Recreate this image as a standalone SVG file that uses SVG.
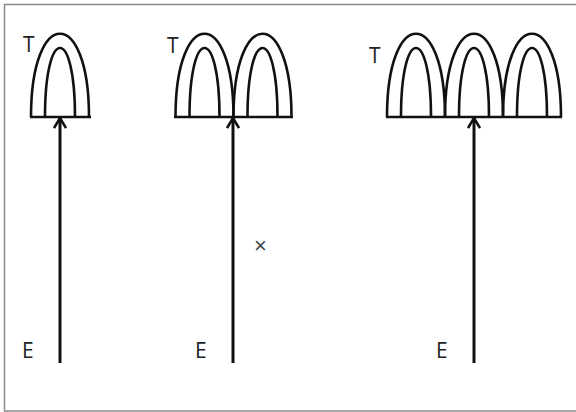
<svg xmlns="http://www.w3.org/2000/svg" width="576" height="412" viewBox="0 0 576 412">
<style>
.frame{fill:none;stroke:#8a8a8a;stroke-width:1.5}
.arch{fill:none;stroke:#111;stroke-width:2.6;stroke-linejoin:round}
.base{fill:none;stroke:#111;stroke-width:2.6}
.shaft{fill:none;stroke:#111;stroke-width:3}
.lbl{font-family:"Open Sans","Liberation Sans",sans-serif;font-size:21px;fill:#222}
.x{font-family:"Liberation Sans",sans-serif;font-size:22px;fill:#444}
</style>
<defs>
<g id="archUnit">
<path class="arch" d="M-29,117 C-29,6 29,6 29,117"/>
<path class="arch" d="M-15,117 C-15,25 15,25 15,117"/>
</g>
<marker id="head" viewBox="0 0 14 14" refX="12" refY="7" markerWidth="14" markerHeight="14" markerUnits="userSpaceOnUse" orient="auto">
<path d="M2,1 L12,7 L2,13" fill="none" stroke="#111" stroke-width="2.6" stroke-linejoin="miter"/>
</marker>
</defs>
<rect class="frame" x="4.5" y="4.5" width="580" height="406.5"/>
<g id="tree1">
<use href="#archUnit" x="60"/>
<line class="base" x1="30" y1="117" x2="91" y2="117"/>
<text class="lbl" x="23" y="52">T</text>
</g>
<g id="tree2">
<use href="#archUnit" x="204.5"/>
<use href="#archUnit" x="262.5"/>
<line class="base" x1="174" y1="117" x2="293" y2="117"/>
<text class="lbl" x="167" y="53">T</text>
</g>
<g id="tree3">
<use href="#archUnit" x="416"/>
<use href="#archUnit" x="474"/>
<use href="#archUnit" x="532"/>
<line class="base" x1="386" y1="117" x2="562" y2="117"/>
<text class="lbl" x="369" y="63">T</text>
</g>
<g id="labels">
<text class="lbl" x="22" y="358">E</text>
<text class="lbl" x="195" y="358">E</text>
<text class="lbl" x="436" y="358">E</text>
<text class="x" x="254" y="253">×</text>
</g>
<g id="connectors">
<line class="shaft" x1="60" y1="363" x2="60" y2="118" marker-end="url(#head)"/>
<line class="shaft" x1="233" y1="363" x2="233" y2="118" marker-end="url(#head)"/>
<line class="shaft" x1="474" y1="363" x2="474" y2="118" marker-end="url(#head)"/>
</g>
</svg>
